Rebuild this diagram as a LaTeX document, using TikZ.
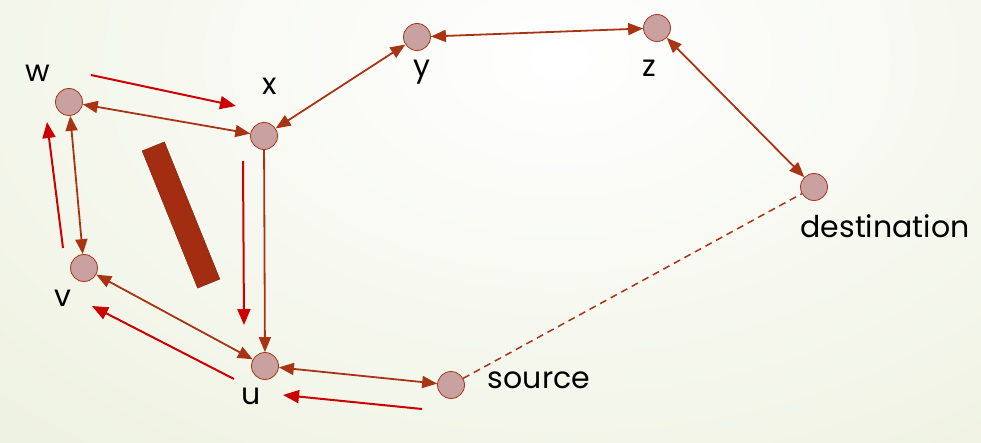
\documentclass[tikz,border=0pt]{standalone}
\usepackage{fontspec}
\setmainfont{Poppins}
\usetikzlibrary{arrows.meta,graphs}
\definecolor{linkbrown}{HTML}{A93414}
\definecolor{nodepink}{HTML}{C9A1A0}
\definecolor{pathred}{HTML}{CC0000}
\definecolor{wallbrown}{HTML}{A32D10}
\definecolor{bggreen}{HTML}{E1E8CA}

\begin{document}
\begin{tikzpicture}[x=1pt,y=-1pt,new set=routers,
  >={Triangle[length=15pt,width=12pt]},
  router/.style={circle,draw=linkbrown,fill=nodepink,thick,minimum size=27pt,inner sep=0pt},
  nodetext/.style={anchor=base,font=\fontsize{30}{32}\selectfont},
  detour/.style={draw=pathred,line width=2pt,-{Triangle[length=16pt,width=13pt]}}]
\useasboundingbox (0,0) rectangle (981,443);
\begin{scope}
\clip (0,0) rectangle (981,443);
\shade[inner color=white,outer color=bggreen] (-840,-840) rectangle (1960,960);
\end{scope}
\begin{scope}[nodes={set=routers}] % every router goes in this set
\node [router] (w) at (69,102) {};
\node [router] (x) at (264,136) {};
\node [router] (y) at (417,37) {};
\node [router] (z) at (657,28) {};
\node [router] (v) at (84,268) {};
\node [router] (u) at (265,366) {};
\node [router] (src) at (451,385) {};
\node [router] (dst) at (814,187) {};
\end{scope}
\node [nodetext] at (38,82) {w};
\node [nodetext] at (270,95) {x};
\node [nodetext] at (422,77) {y};
\node [nodetext] at (649,77) {z};
\node [nodetext] at (63,306) {v};
\node [nodetext] at (251,404) {u};
\node [nodetext] at (539,388) {source};
\node [nodetext] at (885,238) {destination};
% link blocked between w and u
\node [draw=wallbrown!75!black,fill=wallbrown,rotate=22,minimum width=24pt,minimum height=148pt] (wall) at (181,215) {};
\graph [edges={linkbrown,line width=1.8pt}]
{ (routers);
w <-> x <-> y <-> z <-> dst; w <-> v <-> u <-> src; x -> u;
src --[dashed,dash pattern=on 7pt off 5pt,line width=1.5pt] dst };
% detour taken by the message
\coordinate (a1) at (91,75);
\coordinate (a2) at (236,106);
\coordinate (b1) at (63,248);
\coordinate (b2) at (47,122);
\coordinate (c1) at (243,161);
\coordinate (c2) at (244,325);
\coordinate (d1) at (234,379);
\coordinate (d2) at (92,306);
\coordinate (e1) at (422,409);
\coordinate (e2) at (283,395);
\draw [detour] (a1) -- (a2);
\draw [detour] (b1) -- (b2);
\draw [detour] (c1) -- (c2);
\draw [detour] (d1) -- (d2);
\draw [detour] (e1) -- (e2);
\end{tikzpicture}
\end{document}
